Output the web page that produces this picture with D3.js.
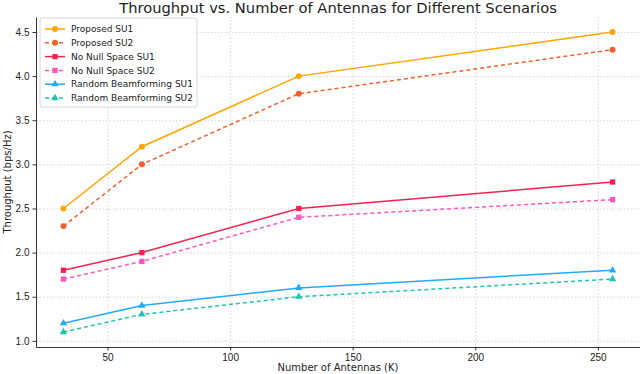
<!DOCTYPE html>
<html>
<head>
<meta charset="utf-8">
<script src="https://cdn.jsdelivr.net/npm/d3@7"></script>
<style>
  body { margin: 0; background: #fff; }
  svg { display: block; font-family: "DejaVu Sans", sans-serif; }
  .grid line { stroke: #cccccc; stroke-dasharray: 1.5,2; stroke-width: 0.8; }
  .grid path { display: none; }
  .axis path, .axis line { stroke: #333; }
  .axis text { font-size: 10px; fill: #222; }
</style>
</head>
<body>
<div id="chart"></div>
<script>
// data
var antennas = [32, 64, 128, 256];
var proposedSU1 = [2.5, 3.2, 4.0, 4.5];
var proposedSU2 = [2.3, 3.0, 3.8, 4.3];
var noNullSU1 = [1.8, 2.0, 2.5, 2.8];
var noNullSU2 = [1.7, 1.9, 2.4, 2.6];
var randomSU1 = [1.2, 1.4, 1.6, 1.8];
var randomSU2 = [1.1, 1.3, 1.5, 1.7];
var xTicks = [50, 100, 150, 200, 250];
var yTicks = [1.0, 1.5, 2.0, 2.5, 3.0, 3.5, 4.0, 4.5];

var series = [
  {name: "Proposed SU1", values: proposedSU1, color: "#ffa500", dash: null, marker: "circle"},
  {name: "Proposed SU2", values: proposedSU2, color: "#f4602a", dash: "4,3", marker: "circle"},
  {name: "No Null Space SU1", values: noNullSU1, color: "#f5224f", dash: null, marker: "square"},
  {name: "No Null Space SU2", values: noNullSU2, color: "#ff55c0", dash: "4,3", marker: "square"},
  {name: "Random Beamforming SU1", values: randomSU1, color: "#1fabff", dash: null, marker: "triangle"},
  {name: "Random Beamforming SU2", values: randomSU2, color: "#1fc4b2", dash: "4,3", marker: "triangle"}
];

var svgWidth = 640;
var svgHeight = 374;
var margin = {top: 17, right: 0, bottom: 27, left: 36};
var width = svgWidth - margin.left - margin.right;
var height = svgHeight - margin.top - margin.bottom;

var svg = d3.select("#chart")
  .append("svg")
  .attr("width", svgWidth)
  .attr("height", svgHeight);

var chartGroup = svg.append("g")
  .attr("transform", `translate(${margin.left}, ${margin.top})`);

// scales with matplotlib-like 5% padding
var xPad = (d3.max(antennas) - d3.min(antennas)) * 0.05;
var xScale = d3.scaleLinear()
  .domain([d3.min(antennas) - xPad, d3.max(antennas) + xPad])
  .range([0, width]);

var allY = series.flatMap(s => s.values);
var yPad = (d3.max(allY) - d3.min(allY)) * 0.05;
var yScale = d3.scaleLinear()
  .domain([d3.min(allY) - yPad, d3.max(allY) + yPad])
  .range([height, 0]);

// grid
chartGroup.append("g")
  .attr("class", "grid")
  .attr("transform", `translate(0, ${height})`)
  .call(d3.axisBottom(xScale).tickValues(xTicks).tickSize(-height).tickFormat(""));
chartGroup.append("g")
  .attr("class", "grid")
  .call(d3.axisLeft(yScale).tickValues(yTicks).tickSize(-width).tickFormat(""));

// axes
chartGroup.append("g")
  .attr("class", "axis")
  .attr("transform", `translate(0, ${height})`)
  .call(d3.axisBottom(xScale).tickValues(xTicks).tickSize(3.5).tickPadding(3).tickSizeOuter(0));
chartGroup.append("g")
  .attr("class", "axis")
  .call(d3.axisLeft(yScale).tickValues(yTicks).tickSize(3.5).tickPadding(3).tickSizeOuter(0)
    .tickFormat(d3.format(".1f")));

// lines
var line = d3.line()
  .x((d, i) => xScale(antennas[i]))
  .y(d => yScale(d));

var symbols = {circle: d3.symbolCircle, square: d3.symbolSquare, triangle: d3.symbolTriangle};

series.forEach(function(s) {
  chartGroup.append("path")
    .datum(s.values)
    .attr("fill", "none")
    .attr("stroke", s.color)
    .attr("stroke-width", 1.5)
    .attr("stroke-dasharray", s.dash)
    .attr("d", line);

  chartGroup.selectAll(null)
    .data(s.values)
    .enter()
    .append("path")
    .attr("transform", (d, i) => `translate(${xScale(antennas[i])}, ${yScale(d)})`)
    .attr("d", d3.symbol().type(symbols[s.marker]).size(s.marker == "triangle" ? 24 : 28))
    .attr("fill", s.color);
});

// legend
var legend = chartGroup.append("g")
  .attr("transform", "translate(4, 1)");
legend.append("rect")
  .attr("width", 157)
  .attr("height", 89)
  .attr("rx", 2)
  .attr("fill", "white")
  .attr("fill-opacity", 0.85)
  .attr("stroke", "#d8d8d8");

series.forEach(function(s, i) {
  var row = legend.append("g")
    .attr("transform", `translate(0, ${11 + i * 13.8})`);
  row.append("line")
    .attr("x1", 5).attr("x2", 25)
    .attr("stroke", s.color)
    .attr("stroke-width", 1.5)
    .attr("stroke-dasharray", s.dash);
  row.append("path")
    .attr("transform", "translate(15, 0)")
    .attr("d", d3.symbol().type(symbols[s.marker]).size(s.marker == "triangle" ? 24 : 28))
    .attr("fill", s.color);
  row.append("text")
    .attr("x", 31)
    .attr("dy", "0.35em")
    .attr("font-size", "9px")
    .attr("fill", "#222")
    .text(s.name);
});

// title and labels
svg.append("text")
  .attr("x", margin.left + width / 2)
  .attr("y", 13)
  .attr("text-anchor", "middle")
  .attr("font-size", "14.7px")
  .attr("fill", "#222")
  .text("Throughput vs. Number of Antennas for Different Scenarios");

svg.append("text")
  .attr("x", margin.left + width / 2)
  .attr("y", 371)
  .attr("text-anchor", "middle")
  .attr("font-size", "10px")
  .attr("fill", "#222")
  .text("Number of Antennas (K)");

svg.append("text")
  .attr("transform", `translate(11, ${margin.top + height / 2}) rotate(-90)`)
  .attr("text-anchor", "middle")
  .attr("font-size", "10px")
  .attr("fill", "#222")
  .text("Throughput (bps/Hz)");
</script>
</body>
</html>
